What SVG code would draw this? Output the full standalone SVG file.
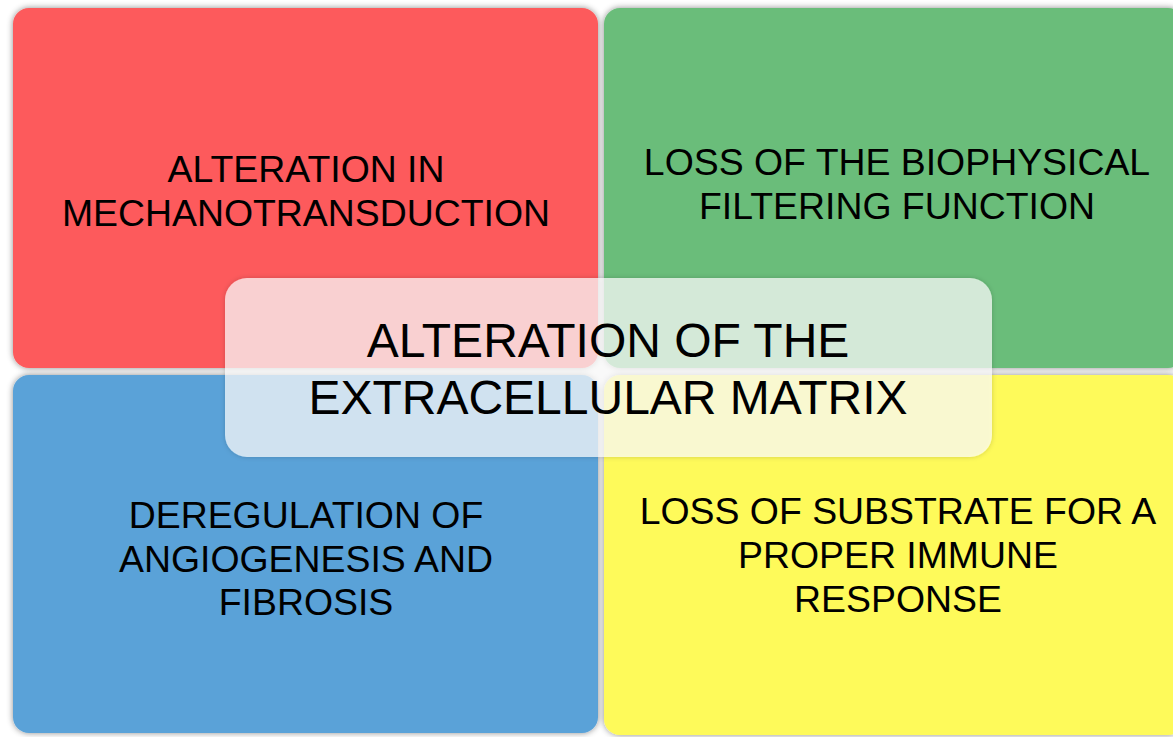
<svg xmlns="http://www.w3.org/2000/svg" width="1173" height="737" viewBox="0 0 1173 737">
<defs>
<filter id="sh" x="-5%" y="-5%" width="110%" height="110%">
<feDropShadow dx="0" dy="0" stdDeviation="3" flood-color="#000" flood-opacity="0.45"/>
</filter>
<filter id="sh2" x="-5%" y="-10%" width="110%" height="120%">
<feDropShadow dx="0" dy="0" stdDeviation="2.5" flood-color="#000" flood-opacity="0.25"/>
</filter>
</defs>
<style>
.q{filter:url(#sh)}
.t{font-family:"Liberation Sans",Arial,sans-serif;font-size:37.4px;fill:#000;text-anchor:middle}
.c{font-family:"Liberation Sans",Arial,sans-serif;font-size:48px;fill:#000;text-anchor:middle}
</style>
<rect width="1173" height="737" fill="#fff"/>
<g id="red">
<rect class="q" x="13" y="8" width="585" height="360" rx="16" fill="#fd5a5b"/>
<text class="t" x="306" y="182">ALTERATION IN</text>
<text class="t" x="306" y="226">MECHANOTRANSDUCTION</text>
</g>
<g id="green">
<rect class="q" x="604" y="8" width="580" height="360" rx="16" fill="#6abd7a"/>
<text class="t" x="897" y="175">LOSS OF THE BIOPHYSICAL</text>
<text class="t" x="897" y="219">FILTERING FUNCTION</text>
</g>
<g id="blue">
<rect class="q" x="13" y="375" width="585" height="358" rx="16" fill="#5aa2d8"/>
<text class="t" x="306" y="528">DEREGULATION OF</text>
<text class="t" x="306" y="572">ANGIOGENESIS AND</text>
<text class="t" x="306" y="615">FIBROSIS</text>
</g>
<g id="yellow">
<rect class="q" x="604" y="375" width="580" height="360" rx="16" fill="#fefa5a"/>
<text class="t" x="898" y="524">LOSS OF SUBSTRATE FOR A</text>
<text class="t" x="898" y="568">PROPER IMMUNE</text>
<text class="t" x="898" y="612">RESPONSE</text>
</g>
<g id="center">
<rect x="225" y="278" width="767" height="179" rx="22" fill="#fff" fill-opacity="0.7" filter="url(#sh2)"/>
<text class="c" x="608" y="357">ALTERATION OF THE</text>
<text class="c" x="608" y="414">EXTRACELLULAR MATRIX</text>
</g>
<g id="connectors"/>
</svg>
